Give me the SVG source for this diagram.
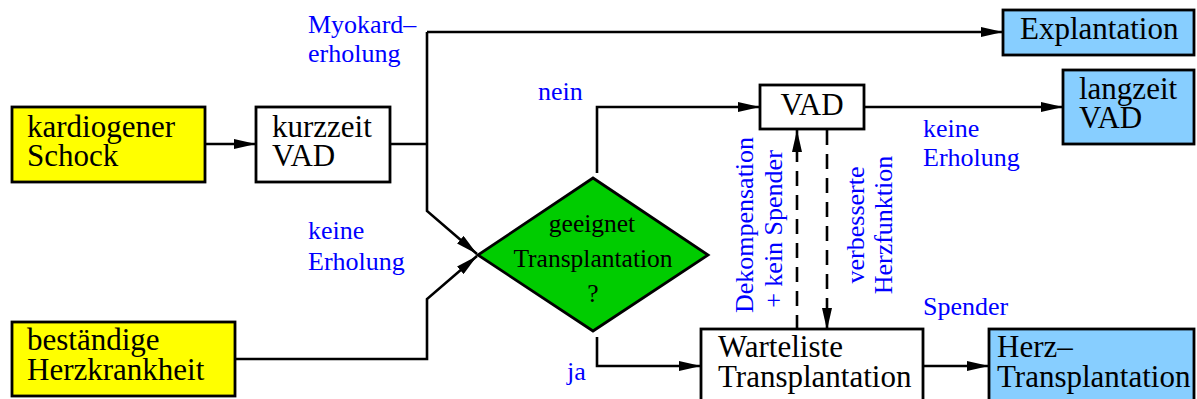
<svg xmlns="http://www.w3.org/2000/svg" width="1197" height="399" viewBox="0 0 1197 399">
  <style>
    .box { stroke: #000; stroke-width: 2.8; }
    .yellow { fill: #ffff00; }
    .white { fill: #ffffff; }
    .blue { fill: #87ceff; }
    .green { fill: #00cc00; }
    .t { font-family: "Liberation Serif", "Times New Roman", serif; font-size: 31px; fill: #000; }
    .ts { font-family: "Liberation Serif", "Times New Roman", serif; font-size: 25.5px; fill: #000; text-anchor: middle; }
    .lbl { font-family: "Liberation Serif", "Times New Roman", serif; font-size: 26px; fill: #0000ff; }
    .line { fill: none; stroke: #000; stroke-width: 2.6; }
    .dash { stroke-dasharray: 15 9; }
  </style>
  <defs>
    <marker id="arrow" markerUnits="userSpaceOnUse" markerWidth="22" markerHeight="10" refX="22" refY="5" orient="auto">
      <path d="M0,0 L22,5 L0,10 Z" fill="#000"/>
    </marker>
  </defs>

  <rect width="1197" height="399" fill="#ffffff"/>

  <!-- connectors -->
  <g id="connectors">
    <path class="line" d="M205,144 H256" marker-end="url(#arrow)"/>
    <path class="line" d="M390,144 H427"/>
    <path class="line" d="M427,32 V211 L477,254" marker-end="url(#arrow)"/>
    <path class="line" d="M427,32 H1003" marker-end="url(#arrow)"/>
    <path class="line" d="M235,359 H427 V299 L477,256" marker-end="url(#arrow)"/>
    <path class="line" d="M597,173 V107 H760" marker-end="url(#arrow)"/>
    <path class="line" d="M864,107 H1063" marker-end="url(#arrow)"/>
    <path class="line" d="M597,337 V366 H701" marker-end="url(#arrow)"/>
    <path class="line" d="M923,366 H989" marker-end="url(#arrow)"/>
    <path class="line dash" d="M797,330 V130" marker-end="url(#arrow)"/>
    <path class="line dash" d="M827,130 V330" marker-end="url(#arrow)"/>

    <!-- connector labels -->
    <text class="lbl" x="308" y="33">Myokard–</text>
    <text class="lbl" x="308" y="62">erholung</text>
    <text class="lbl" x="538" y="100">nein</text>
    <text class="lbl" x="923" y="137">keine</text>
    <text class="lbl" x="923" y="166">Erholung</text>
    <text class="lbl" x="308" y="239">keine</text>
    <text class="lbl" x="308" y="270">Erholung</text>
    <text class="lbl" x="567" y="380">ja</text>
    <text class="lbl" x="923" y="315">Spender</text>
    <text class="lbl" text-anchor="middle" transform="translate(753,225) rotate(-90)">Dekompensation</text>
    <text class="lbl" text-anchor="middle" transform="translate(782,229) rotate(-90)">+ kein Spender</text>
    <text class="lbl" text-anchor="middle" transform="translate(864,225) rotate(-90)">verbesserte</text>
    <text class="lbl" text-anchor="middle" transform="translate(892,225) rotate(-90)">Herzfunktion</text>
  </g>

  <!-- nodes -->
  <g id="kardiogener-schock">
    <rect class="box yellow" x="12" y="107" width="193" height="75"/>
    <text class="t" x="27" y="137">kardiogener</text>
    <text class="t" x="27" y="166">Schock</text>
  </g>

  <g id="kurzzeit-vad">
    <rect class="box white" x="256" y="107" width="134" height="75"/>
    <text class="t" x="272" y="137">kurzzeit</text>
    <text class="t" x="272" y="166">VAD</text>
  </g>

  <g id="bestaendige-herzkrankheit">
    <rect class="box yellow" x="12" y="322" width="223" height="74"/>
    <text class="t" x="27" y="350">beständige</text>
    <text class="t" x="27" y="380">Herzkrankheit</text>
  </g>

  <g id="geeignet-transplantation">
    <polygon class="box green" points="593,178 708,255 593,331 478,255"/>
    <text class="ts" x="592" y="232">geeignet</text>
    <text class="ts" x="593" y="267">Transplantation</text>
    <text class="ts" x="593" y="302">?</text>
  </g>

  <g id="vad">
    <rect class="box white" x="760" y="85" width="104" height="44"/>
    <text class="t" x="812" y="115" text-anchor="middle">VAD</text>
  </g>

  <g id="explantation">
    <rect class="box blue" x="1003" y="10" width="191" height="45"/>
    <text class="t" x="1020" y="39">Explantation</text>
  </g>

  <g id="langzeit-vad">
    <rect class="box blue" x="1063" y="70" width="131" height="74"/>
    <text class="t" x="1079" y="99">langzeit</text>
    <text class="t" x="1079" y="128">VAD</text>
  </g>

  <g id="warteliste-transplantation">
    <rect class="box white" x="701" y="329" width="222" height="80"/>
    <text class="t" x="718" y="357">Warteliste</text>
    <text class="t" x="718" y="387">Transplantation</text>
  </g>

  <g id="herz-transplantation">
    <rect class="box blue" x="989" y="329" width="205" height="80"/>
    <text class="t" x="997" y="357">Herz–</text>
    <text class="t" x="997" y="387">Transplantation</text>
  </g>
</svg>
